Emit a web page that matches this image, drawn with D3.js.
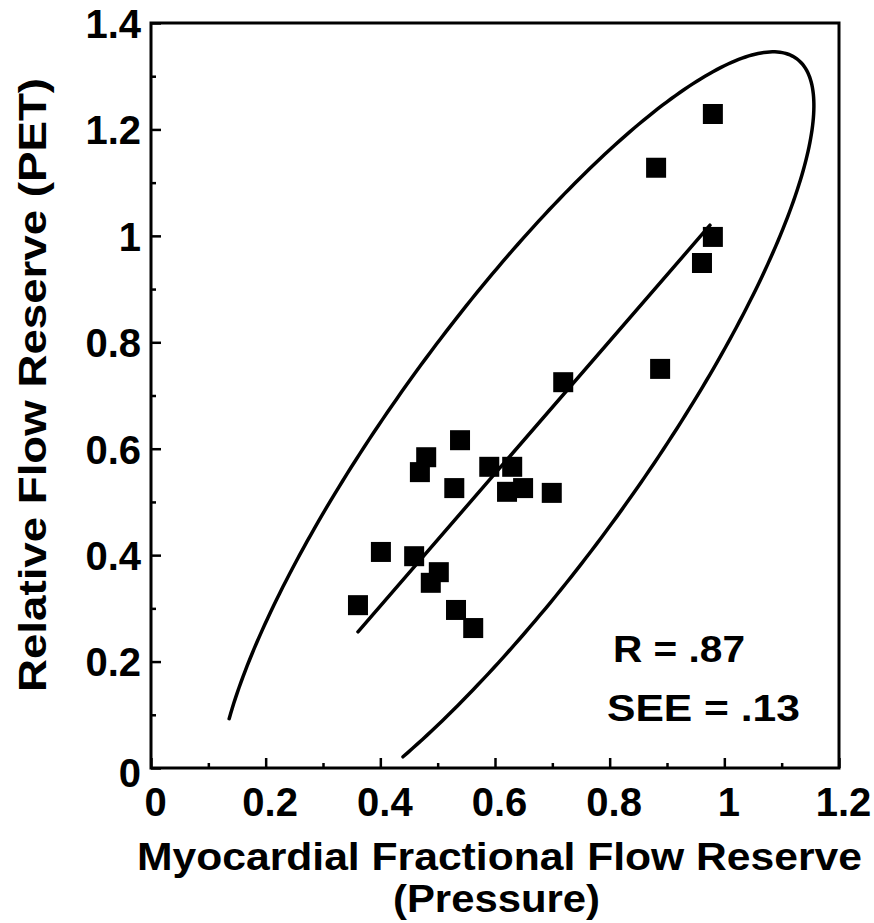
<!DOCTYPE html>
<html>
<head>
<meta charset="utf-8">
<script src="https://cdn.jsdelivr.net/npm/d3@7"></script>
<style>
  body { margin: 0; background: #fff; }
  text { font-family: "Liberation Sans", Arial, sans-serif; font-weight: bold; fill: #000; }
</style>
</head>
<body>
<script>
// FFR (pressure) vs relative flow reserve (PET)
const ffr = [0.980, 0.881, 0.980, 0.961, 0.888, 0.719, 0.539, 0.480, 0.469, 0.590, 0.630,
             0.529, 0.621, 0.649, 0.699, 0.401, 0.459, 0.502, 0.488, 0.361, 0.532, 0.562];
const rfr = [1.229, 1.128, 0.998, 0.949, 0.750, 0.725, 0.616, 0.584, 0.556, 0.566, 0.566,
             0.526, 0.519, 0.526, 0.517, 0.406, 0.398, 0.368, 0.348, 0.306, 0.297, 0.263];

// regression line end points (x, y)
const fitX = [0.361, 0.975];
const fitY = [0.256, 1.020];

// confidence ellipse: centre, two half axes (data units), drawn arc in degrees
const ellCentre = [0.637, 0.608];
const ellAxisA = [0.489, 0.725];
const ellAxisB = [0.1745, -0.137];
const ellArc = [-145, 132];

const xTicks = [0, 0.2, 0.4, 0.6, 0.8, 1, 1.2];
const yTicks = [0, 0.2, 0.4, 0.6, 0.8, 1, 1.2, 1.4];
const xMinor = d3.range(0.1, 1.2, 0.2);
const yMinor = d3.range(0.1, 1.4, 0.2);

const stats = ["R = .87", "SEE = .13"];

const width = 874, height = 923;
const mLeft = 151, mRight = 839, mTop = 23, mBottom = 768;

const x = d3.scaleLinear().domain([0, 1.2]).range([mLeft, mRight]);
const y = d3.scaleLinear().domain([0, 1.4]).range([mBottom, mTop]);

const svg = d3.select('body')
  .append('svg')
  .attr('width', width)
  .attr('height', height);

const fmt = d => d === 0 || d === 1 ? String(d) : d.toFixed(1);

// minor ticks
svg.append('g')
  .attr('transform', `translate(0,${mBottom})`)
  .call(d3.axisBottom(x).tickValues(xMinor).tickSize(-5).tickFormat(''))
  .call(g => g.select('.domain').remove());
svg.append('g')
  .attr('transform', `translate(${mLeft},0)`)
  .call(d3.axisLeft(y).tickValues(yMinor).tickSize(-5).tickFormat(''))
  .call(g => g.select('.domain').remove());

// major ticks + labels
const xAxis = svg.append('g')
  .attr('transform', `translate(0,${mBottom})`)
  .call(d3.axisBottom(x).tickValues(xTicks).tickSize(-10).tickPadding(20).tickFormat(fmt));
xAxis.select('.domain').remove();
xAxis.selectAll('text').attr('font-size', 40).attr('dx', 4);

const yAxis = svg.append('g')
  .attr('transform', `translate(${mLeft},0)`)
  .call(d3.axisLeft(y).tickValues(yTicks).tickSize(-10).tickPadding(10).tickFormat(fmt));
yAxis.select('.domain').remove();
yAxis.selectAll('text').attr('font-size', 40).attr('dy', '0.36em');
yAxis.selectAll('text').filter(d => d === 0).attr('dy', '0.45em');

svg.selectAll('.tick line').attr('stroke', '#000').attr('stroke-width', 2.5);

// frame
svg.append('rect')
  .attr('x', mLeft).attr('y', mTop)
  .attr('width', mRight - mLeft).attr('height', mBottom - mTop)
  .attr('fill', 'none').attr('stroke', '#000').attr('stroke-width', 3);

// ellipse arc
const ts = d3.range(ellArc[0], ellArc[1] + 0.5, 1).map(t => t * Math.PI / 180);
const ellPts = ts.map(t => [
  ellCentre[0] + Math.cos(t) * ellAxisA[0] + Math.sin(t) * ellAxisB[0],
  ellCentre[1] + Math.cos(t) * ellAxisA[1] + Math.sin(t) * ellAxisB[1]
]);
svg.append('path')
  .attr('d', d3.line().x(d => x(d[0])).y(d => y(d[1]))(ellPts))
  .attr('fill', 'none').attr('stroke', '#000').attr('stroke-width', 3.5)
  .attr('stroke-linecap', 'round');

// regression line
svg.append('line')
  .attr('x1', x(fitX[0])).attr('y1', y(fitY[0]))
  .attr('x2', x(fitX[1])).attr('y2', y(fitY[1]))
  .attr('stroke', '#000').attr('stroke-width', 3.5).attr('stroke-linecap', 'round');

// points
const sq = 20;
svg.selectAll('rect.pt')
  .data(d3.zip(ffr, rfr))
  .enter()
  .append('rect')
  .attr('class', 'pt')
  .attr('x', d => x(d[0]) - sq / 2)
  .attr('y', d => y(d[1]) - sq / 2)
  .attr('width', sq).attr('height', sq)
  .attr('fill', '#000');

// stats
svg.append('text').attr('x', 613).attr('y', 662).attr('font-size', 36)
  .attr('textLength', 132).attr('lengthAdjust', 'spacingAndGlyphs').text(stats[0]);
svg.append('text').attr('x', 607).attr('y', 721).attr('font-size', 36)
  .attr('textLength', 193).attr('lengthAdjust', 'spacingAndGlyphs').text(stats[1]);

// axis titles
svg.append('text')
  .attr('x', 137).attr('y', 870).attr('font-size', 38)
  .attr('textLength', 725).attr('lengthAdjust', 'spacingAndGlyphs')
  .text('Myocardial Fractional Flow Reserve');
svg.append('text')
  .attr('x', 393).attr('y', 912).attr('font-size', 38)
  .attr('textLength', 207).attr('lengthAdjust', 'spacingAndGlyphs')
  .text('(Pressure)');
svg.append('text')
  .attr('transform', 'translate(46,692) rotate(-90)')
  .attr('font-size', 38)
  .attr('textLength', 614).attr('lengthAdjust', 'spacingAndGlyphs')
  .text('Relative Flow Reserve (PET)');
</script>
</body>
</html>
